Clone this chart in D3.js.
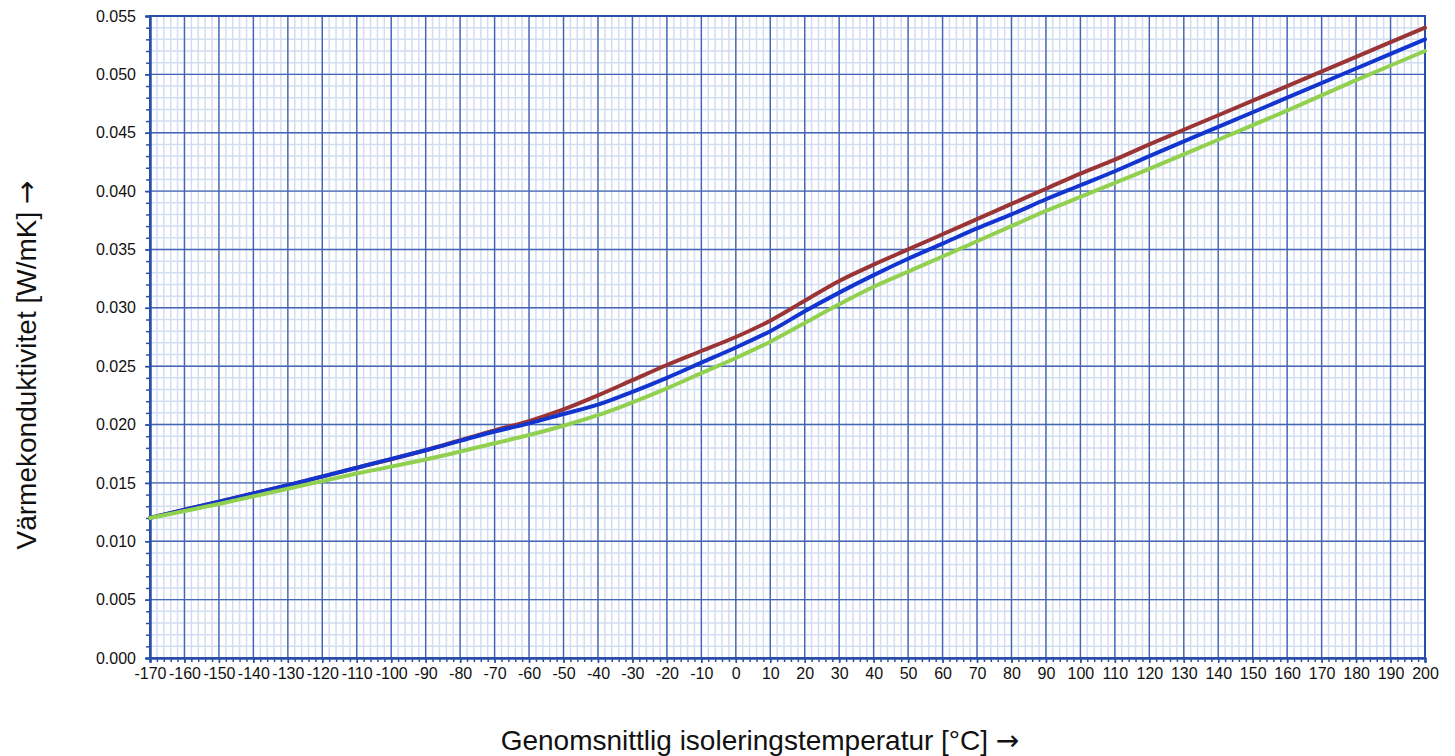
<!DOCTYPE html>
<html>
<head>
<meta charset="utf-8">
<script src="https://cdn.jsdelivr.net/npm/d3@7"></script>
<style>
  body { margin: 0; background: #fff; }
  svg { display: block; font-family: "Liberation Sans", Arial, sans-serif; }
</style>
</head>
<body>
<svg id="chart"></svg>
<script>
// Temperatures (°C) and conductivity values (W/mK)
const temps = [-170, -150, -130, -110, -90, -70, -60, -50, -40, -30, -20, -10, 0, 10, 20, 30, 40, 50, 60, 70, 80, 90, 100, 110, 120, 140, 160, 180, 200];
const redSeries = [0.0120, 0.0134, 0.0148, 0.0163, 0.0178, 0.0195, 0.0203, 0.0213, 0.0225, 0.0238, 0.0251, 0.0263, 0.0275, 0.0289, 0.0306, 0.0323, 0.0337, 0.0350, 0.0363, 0.0376, 0.0389, 0.0402, 0.0415, 0.0427, 0.0440, 0.0465, 0.0490, 0.0515, 0.0540];
const blueSeries = [0.0120, 0.0134, 0.0148, 0.0163, 0.0178, 0.0194, 0.0201, 0.0209, 0.0217, 0.0228, 0.0240, 0.0253, 0.0266, 0.0280, 0.0297, 0.0313, 0.0328, 0.0342, 0.0355, 0.0368, 0.0380, 0.0393, 0.0405, 0.0417, 0.0430, 0.0455, 0.0480, 0.0505, 0.0530];
const greenSeries = [0.0120, 0.0132, 0.0145, 0.0158, 0.0170, 0.0184, 0.0191, 0.0199, 0.0208, 0.0219, 0.0231, 0.0244, 0.0257, 0.0271, 0.0287, 0.0303, 0.0318, 0.0331, 0.0344, 0.0357, 0.0370, 0.0383, 0.0395, 0.0407, 0.0419, 0.0444, 0.0469, 0.0495, 0.0520];

const xTicks = d3.range(-170, 201, 10);
const yTicks = d3.range(0, 0.0551, 0.005);

const xTitle = "Genomsnittlig isoleringstemperatur [°C]";
const yTitle = "Värmekonduktivitet [W/mK]";
const arrow = "→";

// Canvas settings
const width = 1455, height = 756;
const margin = { top: 16, right: 30, bottom: 98, left: 150 };
const innerW = width - margin.left - margin.right;
const innerH = height - margin.top - margin.bottom;

const svg = d3.select("#chart").attr("width", width).attr("height", height);
const g = svg.append("g").attr("transform", `translate(${margin.left},${margin.top})`);

const x = d3.scaleLinear().domain([-170, 200]).range([0, innerW]);
const y = d3.scaleLinear().domain([0, 0.055]).range([innerH, 0]);

// Minor grid
const minorX = d3.range(-170, 200.1, 2);
const minorY = d3.range(0, 0.05501, 0.001);
g.append("g").selectAll("line").data(minorX).enter().append("line")
    .attr("x1", d => x(d)).attr("x2", d => x(d))
    .attr("y1", 0).attr("y2", innerH)
    .attr("stroke", "#d2ddf1").attr("stroke-width", 1.5);
g.append("g").selectAll("line").data(minorY).enter().append("line")
    .attr("y1", d => y(d)).attr("y2", d => y(d))
    .attr("x1", 0).attr("x2", innerW)
    .attr("stroke", "#d2ddf1").attr("stroke-width", 1.5);

// Major grid
g.append("g").selectAll("line").data(xTicks).enter().append("line")
    .attr("x1", d => x(d)).attr("x2", d => x(d))
    .attr("y1", 0).attr("y2", innerH)
    .attr("stroke", "#4465b3").attr("stroke-width", 1.4);
g.append("g").selectAll("line").data(yTicks).enter().append("line")
    .attr("y1", d => y(d)).attr("y2", d => y(d))
    .attr("x1", 0).attr("x2", innerW)
    .attr("stroke", "#4465b3").attr("stroke-width", 1.4);

// Frame
g.append("rect").attr("width", innerW).attr("height", innerH)
    .attr("fill", "none").attr("stroke", "#2b4fa8").attr("stroke-width", 2);

// Axes
const xAxis = g.append("g").attr("transform", `translate(0,${innerH})`)
    .call(d3.axisBottom(x).tickValues(xTicks).tickSize(5).tickPadding(5).tickFormat(d => String(d)));
const xMinor = g.append("g").attr("transform", `translate(0,${innerH})`)
    .call(d3.axisBottom(x).tickValues(minorX).tickSize(4).tickFormat(""));
const yAxis = g.append("g")
    .call(d3.axisLeft(y).tickValues(yTicks).tickSize(5).tickPadding(9).tickFormat(d3.format(".3f")));
const yMinor = g.append("g")
    .call(d3.axisLeft(y).tickValues(minorY).tickSize(4).tickFormat(""));

[xAxis, xMinor, yAxis, yMinor].forEach(a => {
    a.select(".domain").attr("stroke", "#2b4fa8").attr("stroke-width", 2);
    a.selectAll(".tick line").attr("stroke", "#2b4fa8").attr("stroke-width", 1.5);
    a.selectAll("text").attr("fill", "#111").style("font-size", "16px")
        .style("font-family", '"Liberation Sans", Arial, sans-serif');
});

// Curves
const line = d3.line()
    .x(d => x(d[0]))
    .y(d => y(d[1]))
    .curve(d3.curveCatmullRom.alpha(0.5));

const series = [
    { values: redSeries, color: "#9b3535" },
    { values: blueSeries, color: "#1235d0" },
    { values: greenSeries, color: "#92d050" }
];

series.forEach(s => {
    g.append("path")
        .datum(temps.map((t, i) => [t, s.values[i]]))
        .attr("fill", "none")
        .attr("stroke", s.color)
        .attr("stroke-width", 4)
        .attr("stroke-linejoin", "round")
        .attr("stroke-linecap", "round")
        .attr("d", line);
});

// Titles
const xt = svg.append("text")
    .attr("x", 760).attr("y", 750)
    .attr("text-anchor", "middle")
    .style("font-size", "28px")
    .attr("fill", "#111");
xt.append("tspan").text(xTitle + " ");
xt.append("tspan").style("font-family", '"DejaVu Sans", sans-serif').text(arrow);

const yt = svg.append("text")
    .attr("transform", `translate(36,365) rotate(-90)`)
    .attr("text-anchor", "middle")
    .style("font-size", "28px")
    .attr("fill", "#111");
yt.append("tspan").text(yTitle + " ");
yt.append("tspan").style("font-family", '"DejaVu Sans", sans-serif').text(arrow);
</script>
</body>
</html>
